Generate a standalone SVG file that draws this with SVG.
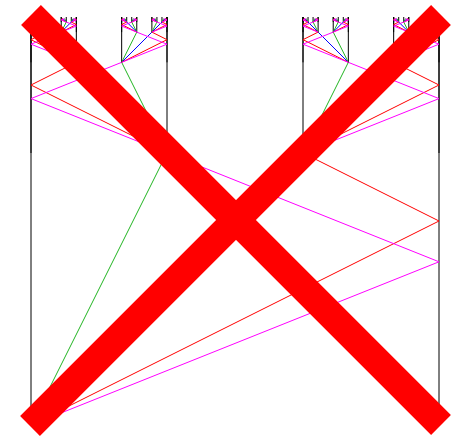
<svg xmlns="http://www.w3.org/2000/svg" xmlns:xlink="http://www.w3.org/1999/xlink" width="455" height="438" viewBox="0 0 455 438">
<style>
.ln{fill:none;stroke-width:1;vector-effect:non-scaling-stroke;stroke-linejoin:miter}
.side{stroke:#000000}
.g{stroke:#22b522}
.m{stroke:#ff00ff}
.r{stroke:#ff0000}
.b{stroke:#0000ff}
.cross{stroke:#ff0000;stroke-width:28;stroke-linecap:butt;fill:none}
</style>
<defs>
<g id="U">
<path class="ln side" d="M0,0V1M1,0V1"/>
<path class="ln g" d="M0.33333,0.33333L0,1"/>
<path class="ln b" d="M0.66667,0.33333L0,1"/>
<path class="ln r" d="M0.66667,0.33333L1,0.5L0,1"/>
<path class="ln m" d="M0.33333,0.33333L1,0.6L0,1"/>
</g>
</defs>
<rect width="455" height="438" fill="#ffffff"/>
<g id="connectors">
<use id="box-0" xlink:href="#U" href="#U" transform="translate(31,17) scale(408)"/>
<use id="box-1a" xlink:href="#U" href="#U" transform="translate(167,17) scale(-136,136)"/>
<use id="box-1b" xlink:href="#U" href="#U" transform="translate(303,17) scale(136)"/>
<use id="box-2a" xlink:href="#U" href="#U" transform="translate(76.3333,17) scale(-45.3333,45.3333)"/>
<use id="box-2b" xlink:href="#U" href="#U" transform="translate(121.6667,17) scale(45.3333)"/>
<use id="box-2c" xlink:href="#U" href="#U" transform="translate(348.3333,17) scale(-45.3333,45.3333)"/>
<use id="box-2d" xlink:href="#U" href="#U" transform="translate(393.6667,17) scale(45.3333)"/>
<use id="box-3a" xlink:href="#U" href="#U" transform="translate(46.1111,17) scale(-15.1111,15.1111)"/>
<use id="box-3b" xlink:href="#U" href="#U" transform="translate(61.2222,17) scale(15.1111)"/>
<use id="box-3c" xlink:href="#U" href="#U" transform="translate(136.7778,17) scale(-15.1111,15.1111)"/>
<use id="box-3d" xlink:href="#U" href="#U" transform="translate(151.8889,17) scale(15.1111)"/>
<use id="box-3e" xlink:href="#U" href="#U" transform="translate(318.1111,17) scale(-15.1111,15.1111)"/>
<use id="box-3f" xlink:href="#U" href="#U" transform="translate(333.2222,17) scale(15.1111)"/>
<use id="box-3g" xlink:href="#U" href="#U" transform="translate(408.7778,17) scale(-15.1111,15.1111)"/>
<use id="box-3h" xlink:href="#U" href="#U" transform="translate(423.8889,17) scale(15.1111)"/>
<use id="box-4a" xlink:href="#U" href="#U" transform="translate(36.037,17) scale(-5.037,5.037)"/>
<use id="box-4b" xlink:href="#U" href="#U" transform="translate(41.0741,17) scale(5.037)"/>
<use id="box-4c" xlink:href="#U" href="#U" transform="translate(66.2593,17) scale(-5.037,5.037)"/>
<use id="box-4d" xlink:href="#U" href="#U" transform="translate(71.2963,17) scale(5.037)"/>
<use id="box-4e" xlink:href="#U" href="#U" transform="translate(126.7037,17) scale(-5.037,5.037)"/>
<use id="box-4f" xlink:href="#U" href="#U" transform="translate(131.7407,17) scale(5.037)"/>
<use id="box-4g" xlink:href="#U" href="#U" transform="translate(156.9259,17) scale(-5.037,5.037)"/>
<use id="box-4h" xlink:href="#U" href="#U" transform="translate(161.963,17) scale(5.037)"/>
<use id="box-4i" xlink:href="#U" href="#U" transform="translate(308.037,17) scale(-5.037,5.037)"/>
<use id="box-4j" xlink:href="#U" href="#U" transform="translate(313.0741,17) scale(5.037)"/>
<use id="box-4k" xlink:href="#U" href="#U" transform="translate(338.2593,17) scale(-5.037,5.037)"/>
<use id="box-4l" xlink:href="#U" href="#U" transform="translate(343.2963,17) scale(5.037)"/>
<use id="box-4m" xlink:href="#U" href="#U" transform="translate(398.7037,17) scale(-5.037,5.037)"/>
<use id="box-4n" xlink:href="#U" href="#U" transform="translate(403.7407,17) scale(5.037)"/>
<use id="box-4o" xlink:href="#U" href="#U" transform="translate(428.9259,17) scale(-5.037,5.037)"/>
<use id="box-4p" xlink:href="#U" href="#U" transform="translate(433.963,17) scale(5.037)"/>
</g>
<g id="cross-mark">
<path class="cross" d="M31,15L441,425"/>
<path class="cross" d="M441,15L30,426"/>
</g>
</svg>
